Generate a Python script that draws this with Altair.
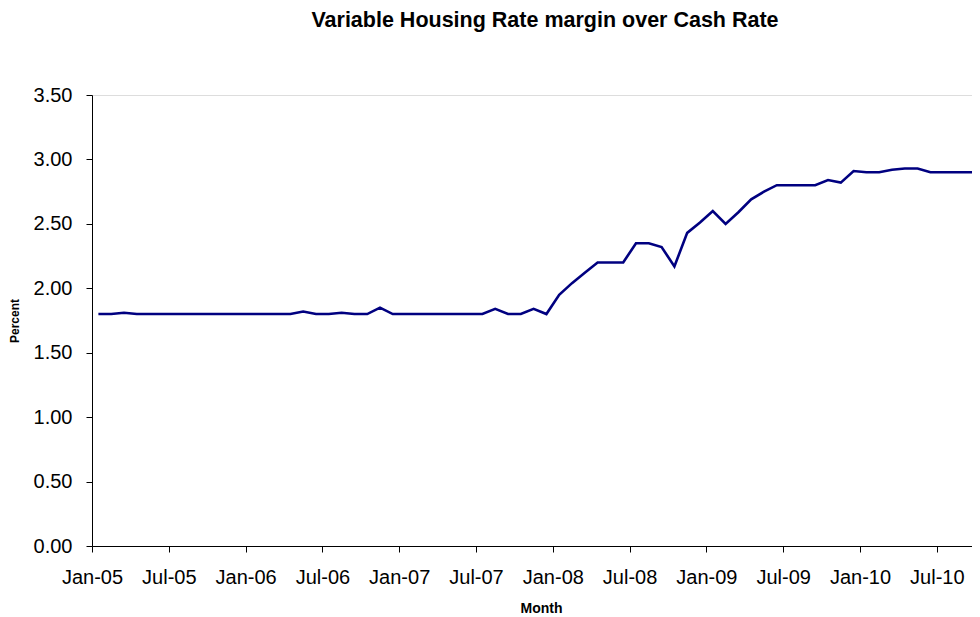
import json
import altair as alt
import pandas as pd

# Monthly margin (percentage points), Jan-05 .. Oct-10
values = [
    1.80, 1.80, 1.81, 1.80, 1.80, 1.80, 1.80, 1.80, 1.80, 1.80, 1.80, 1.80,  # 2005
    1.80, 1.80, 1.80, 1.80, 1.82, 1.80, 1.80, 1.81, 1.80, 1.80, 1.85, 1.80,  # 2006
    1.80, 1.80, 1.80, 1.80, 1.80, 1.80, 1.80, 1.84, 1.80, 1.80, 1.84, 1.80,  # 2007
    1.95, 2.04, 2.12, 2.20, 2.20, 2.20, 2.35, 2.35, 2.32, 2.17, 2.43, 2.51,  # 2008
    2.60, 2.50, 2.59, 2.69, 2.75, 2.80, 2.80, 2.80, 2.80, 2.84, 2.82, 2.91,  # 2009
    2.90, 2.90, 2.92, 2.93, 2.93, 2.90, 2.90, 2.90, 2.90, 2.90,              # 2010
]
month_index = list(range(len(values)))
tick_labels = ["Jan-05", "Jul-05", "Jan-06", "Jul-06", "Jan-07", "Jul-07",
               "Jan-08", "Jul-08", "Jan-09", "Jul-09", "Jan-10", "Jul-10"]
y_ticks = [0, 0.5, 1.0, 1.5, 2.0, 2.5, 3.0, 3.5]

df = pd.DataFrame({"m": month_index, "v": values})

FONT = "Liberation Sans"
tick_vals = [-0.5 + 6 * k for k in range(len(tick_labels))]
label_expr = json.dumps(tick_labels) + "[round((datum.value + 0.5) / 6)]"

chart = alt.Chart(df).mark_line(color="#000080", strokeWidth=2.6, clip=True).encode(
    x=alt.X("m:Q",
            scale=alt.Scale(domain=[-0.5, 68.25], nice=False, zero=False),
            axis=alt.Axis(title="Month", values=tick_vals, labelExpr=label_expr,
                          grid=False, domainColor="#000000", tickColor="#000000",
                          tickSize=6, labelFontSize=20, labelFont=FONT, labelColor="#000000",
                          labelPadding=15, labelOverlap=False, labelFlush=False,
                          titleFont=FONT, titleFontSize=14, titleFontWeight="bold",
                          titleColor="#000000", titleX=449, titleY=66,
                          titleBaseline="alphabetic", titleAnchor="start", titleAlign="center")),
    y=alt.Y("v:Q",
            scale=alt.Scale(domain=[0, 3.5], nice=False),
            axis=alt.Axis(title="Percent", values=y_ticks, format=".2f",
                          grid=False, domainColor="#000000", tickColor="#000000",
                          tickSize=6, labelFontSize=20, labelFont=FONT, labelColor="#000000",
                          labelPadding=14,
                          titleFont=FONT, titleFontSize=12, titleFontWeight="bold",
                          titleColor="#000000", titleX=-74, titleY=225.5,
                          titleBaseline="alphabetic", titleAnchor="start", titleAlign="center",
                          titleAngle=270)),
).properties(
    width=880,
    height=451,
    autosize=alt.AutoSizeParams(type="none"),
    padding={"left": 84, "top": 87, "right": 0, "bottom": 70},
    title=alt.TitleParams(text="Variable Housing Rate margin over Cash Rate",
                          fontSize=21.5, fontWeight="bold", font=FONT, color="#000000",
                          anchor="middle", frame="group", offset=37,
                          baseline="alphabetic", dx=13),
).configure_view(stroke=None).configure(background="white")

chart.save("out.html", embed_options={"renderer": "svg", "actions": False})
